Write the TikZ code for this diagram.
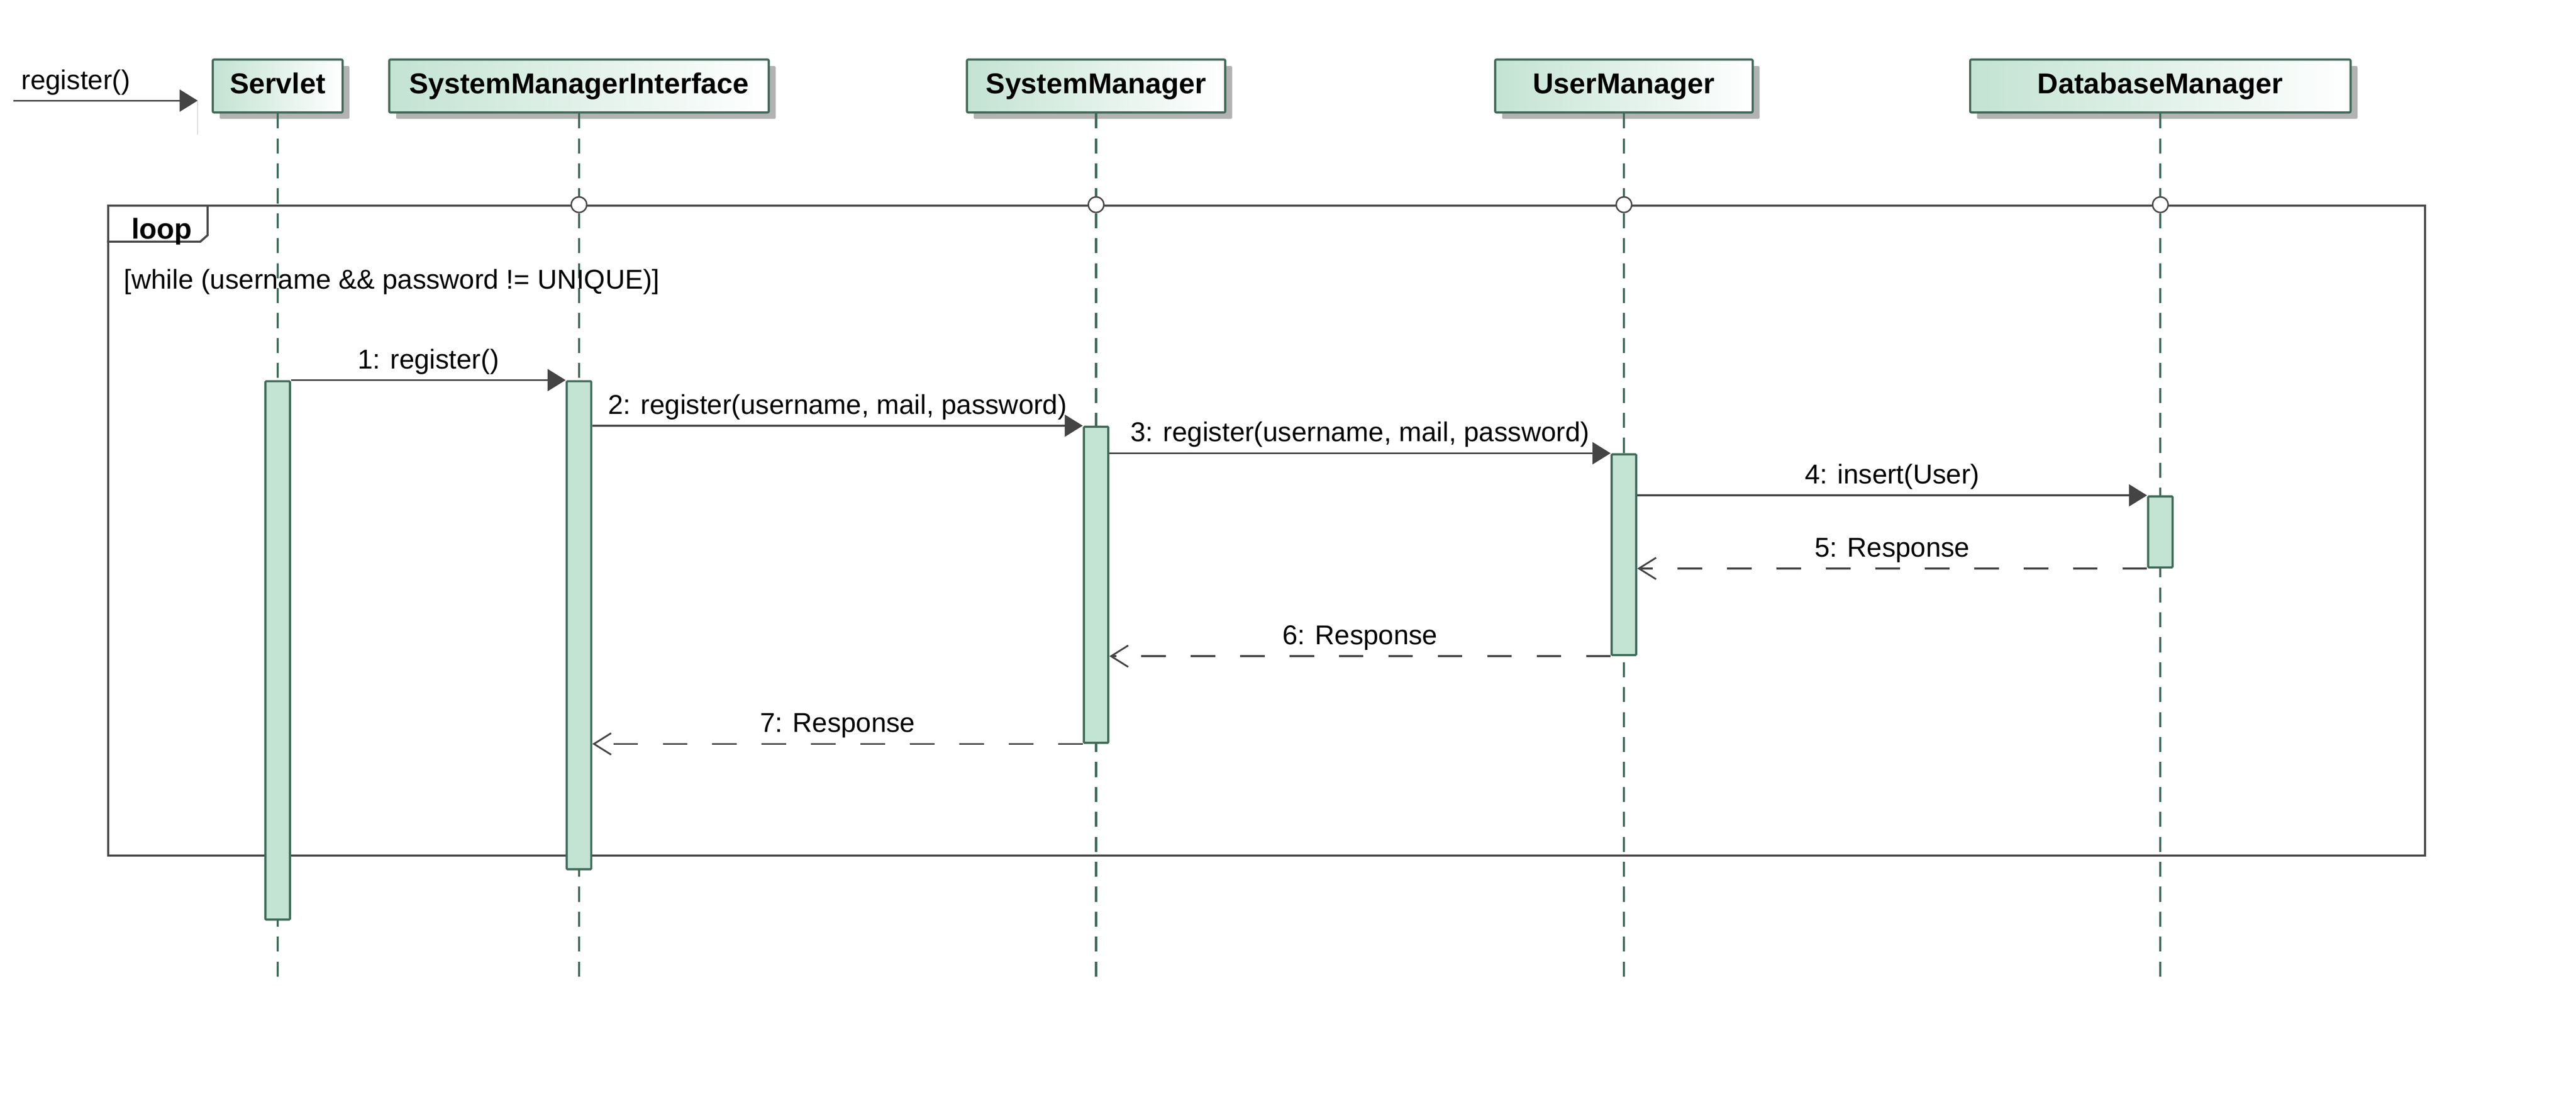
\documentclass[tikz,border=0pt]{standalone}
\usepackage{fontspec}
\setmainfont{Liberation Sans}
\usetikzlibrary{arrows.meta,shadows}

\definecolor{umlborder}{HTML}{3F6B58}
\definecolor{umlfill}{HTML}{C3E3D3}
\definecolor{msggray}{HTML}{444444}
\definecolor{framegray}{HTML}{484848}

\begin{document}
\begin{tikzpicture}[
    font=\fontsize{18}{21}\selectfont,
    lifebox/.style={rectangle, draw=umlborder, line width=0.05cm, rounded corners=0.03cm, left color=umlfill, right color=white, minimum height=1.23cm, text height=0.48cm, text depth=0.12cm, font=\fontsize{19}{22}\selectfont\bfseries, drop shadow={shadow xshift=0.16cm, shadow yshift=-0.15cm, fill=black!30, opacity=1}},
    lifeline/.style={draw=umlborder, line width=0.05cm, dash pattern=on 0.35cm off 0.23cm},
    activation/.style={rectangle, draw=umlborder, fill=umlfill, line width=0.05cm, rounded corners=0.02cm, minimum width=0.57cm, anchor=north, inner sep=0pt},
    loopframe/.style={rectangle, draw=framegray, line width=0.05cm, minimum width=53.9cm, minimum height=15.11cm, anchor=north west, inner sep=0pt},
    gate/.style={circle, draw=framegray, fill=white, line width=0.035cm, minimum size=0.36cm, inner sep=0pt},
    call/.style={-{Triangle[length=0.42cm, width=0.51cm]}, draw=msggray, line width=0.04cm},
    reply/.style={-{Straight Barb[length=0.4cm, width=0.5cm]}, draw=msggray, line width=0.04cm, dash pattern=on 0.57cm off 0.58cm},
    msglabel/.style={anchor=base, yshift=0.27cm},
    plaintext/.style={anchor=base west, inner sep=0pt}
]
\useasboundingbox (0,0) rectangle (59.93,-25.67);

% Lifeline heads
\node[lifebox, minimum width=3.02cm] at (6.46,-2.00) (servlet) {Servlet};
\node[lifebox, minimum width=8.83cm] at (13.47,-2.00) (smi) {SystemManagerInterface};
\node[lifebox, minimum width=6.01cm] at (25.50,-2.00) (sm) {SystemManager};
\node[lifebox, minimum width=5.99cm] at (37.78,-2.00) (um) {UserManager};
\node[lifebox, minimum width=8.85cm] at (50.26,-2.00) (db) {DatabaseManager};

% Lifelines
\coordinate (servletend) at (6.46,-22.82);
\coordinate (smiend) at (13.47,-22.82);
\coordinate (smend) at (25.50,-22.82);
\coordinate (umend) at (37.78,-22.82);
\coordinate (dbend) at (50.26,-22.82);
\draw[lifeline] (servlet.south) -- (servletend);
\draw[lifeline] (smi.south) -- (smiend);
\draw[lifeline] (sm.south) -- (smend);
\draw[lifeline] (um.south) -- (umend);
\draw[lifeline] (db.south) -- (dbend);

% Found message
\coordinate (found) at (0.31,-2.34);
\coordinate (foundend) at (4.60,-2.34);
\coordinate (foundtail) at (4.60,-3.13);
\draw[black!25, line width=0.01cm] (foundend) -- (foundtail);
\draw[call] (found) -- node[plaintext, pos=0, xshift=0.17cm, yshift=0.26cm] {register()} (foundend);

% Loop fragment
\node[loopframe] at (2.49,-4.76) (loop) {};
\draw[draw=framegray, line width=0.05cm] (loop.north west) ++(0,-0.86) -- ++(2.17,0) -- ++(0.17,0.15) -- (loop.north west -| 4.83,0);
\node[plaintext, font=\fontsize{19}{22}\selectfont\bfseries] at (3.05,-5.56) (looplabel) {loop};
\node[plaintext] at (2.88,-6.72) (guard) {[while (username \&\& password != UNIQUE)]};

% Gates on the fragment border
\node[gate] at (smi |- loop.north) (smigate) {};
\node[gate] at (sm |- loop.north) (smgate) {};
\node[gate] at (um |- loop.north) (umgate) {};
\node[gate] at (db |- loop.north) (dbgate) {};

% Activations
\node[activation, minimum height=12.52cm] at (6.46,-8.84) (servletact) {};
\node[activation, minimum height=11.35cm] at (13.47,-8.84) (smiact) {};
\node[activation, minimum height=7.35cm] at (25.50,-9.90) (smact) {};
\node[activation, minimum height=4.67cm] at (37.78,-10.54) (umact) {};
\node[activation, minimum height=1.65cm] at (50.26,-11.52) (dbact) {};

% Calls
\draw[call] (servletact.north east) -- node[msglabel] {1: register()} (smiact.north west);
\draw[call] (smiact.east |- smact.north) -- node[msglabel] {2: register(username, mail, password)} (smact.north west);
\draw[call] (smact.east |- umact.north) -- node[msglabel] {3: register(username, mail, password)} (umact.north west);
\draw[call] (umact.east |- dbact.north) -- node[msglabel] {4: insert(User)} (dbact.north west);

% Replies
\draw[reply] (dbact.south west) -- node[msglabel] {5: Response} (umact.east |- dbact.south);
\draw[reply] (umact.south west) -- node[msglabel] {6: Response} (smact.east |- umact.south);
\draw[reply] (smact.south west) -- node[msglabel] {7: Response} (smiact.east |- smact.south);

\end{tikzpicture}
\end{document}
